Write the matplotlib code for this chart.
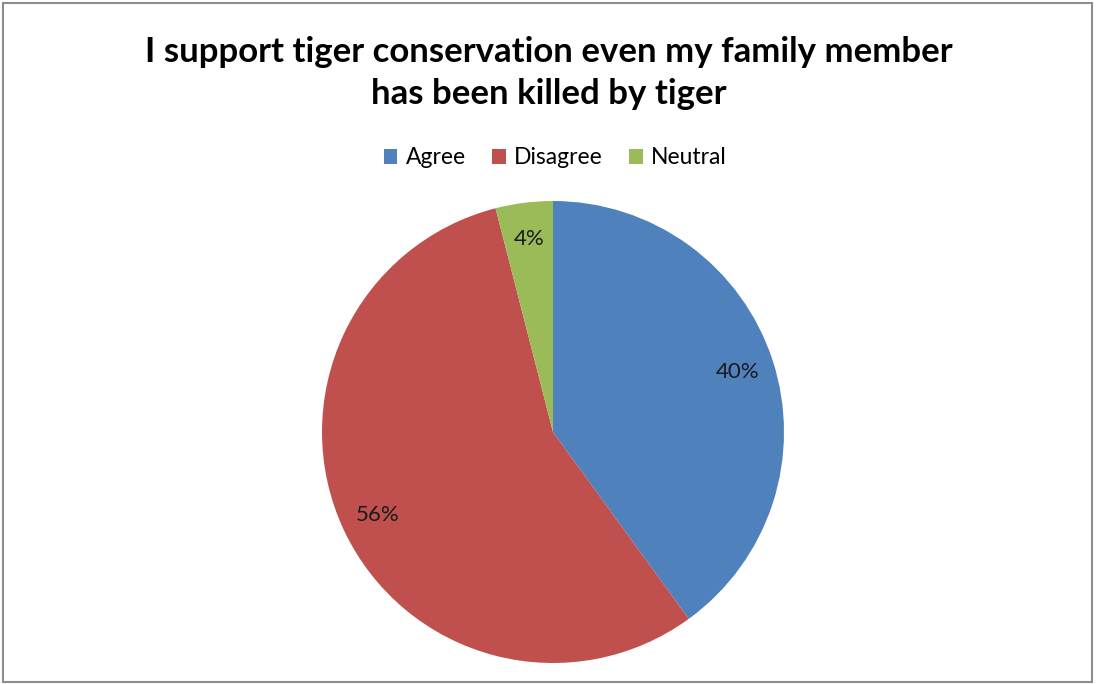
import matplotlib
matplotlib.use("Agg")
import matplotlib.pyplot as plt
from matplotlib.patches import Rectangle

title = "I support tiger conservation even my family member\nhas been killed by tiger"
categories = ["Agree", "Disagree", "Neutral"]
values = [40, 56, 4]
colors = ["#4F81BD", "#C0504D", "#9BBB59"]

plt.rcParams["font.family"] = ["Lato", "DejaVu Sans"]

W, H = 1096, 684
fig = plt.figure(figsize=(W / 100, H / 100), dpi=100)
fig.patch.set_facecolor("white")

# chart frame
fig.patches.append(Rectangle((3 / W, 2 / H), (1092 - 3) / W, (681 - 2) / H,
                             transform=fig.transFigure, fill=False,
                             edgecolor="#8c8c8c", linewidth=1.5))

fig.text(549 / W, 1 - 73 / H, title, ha="center", va="center",
         fontsize=25, fontweight="bold", color="black", linespacing=1.4)

cx, cy, r = 553, 432, 231
ax = fig.add_axes([(cx - r) / W, (H - cy - r) / H, 2 * r / W, 2 * r / H])
wedges, _, autotexts = ax.pie(values, colors=colors, startangle=90, counterclock=False,
                              autopct=lambda p: f"{p:.0f}%", pctdistance=0.84,
                              radius=1.0,
                              wedgeprops=dict(linewidth=0, edgecolor="none"),
                              textprops=dict(fontsize=16, color="#1a1a1a"))
ax.set_xlim(-1, 1)
ax.set_ylim(-1, 1)
ax.set_aspect("equal")
ax.axis("off")

leg = fig.legend(wedges, categories, loc="center", bbox_to_anchor=(555 / W, 1 - 158 / H),
                 ncol=3, frameon=False, fontsize=16.5, handlelength=0.6, handleheight=0.6,
                 handletextpad=0.35, columnspacing=1.15)

fig.savefig("out.png", dpi=100, facecolor="white")
